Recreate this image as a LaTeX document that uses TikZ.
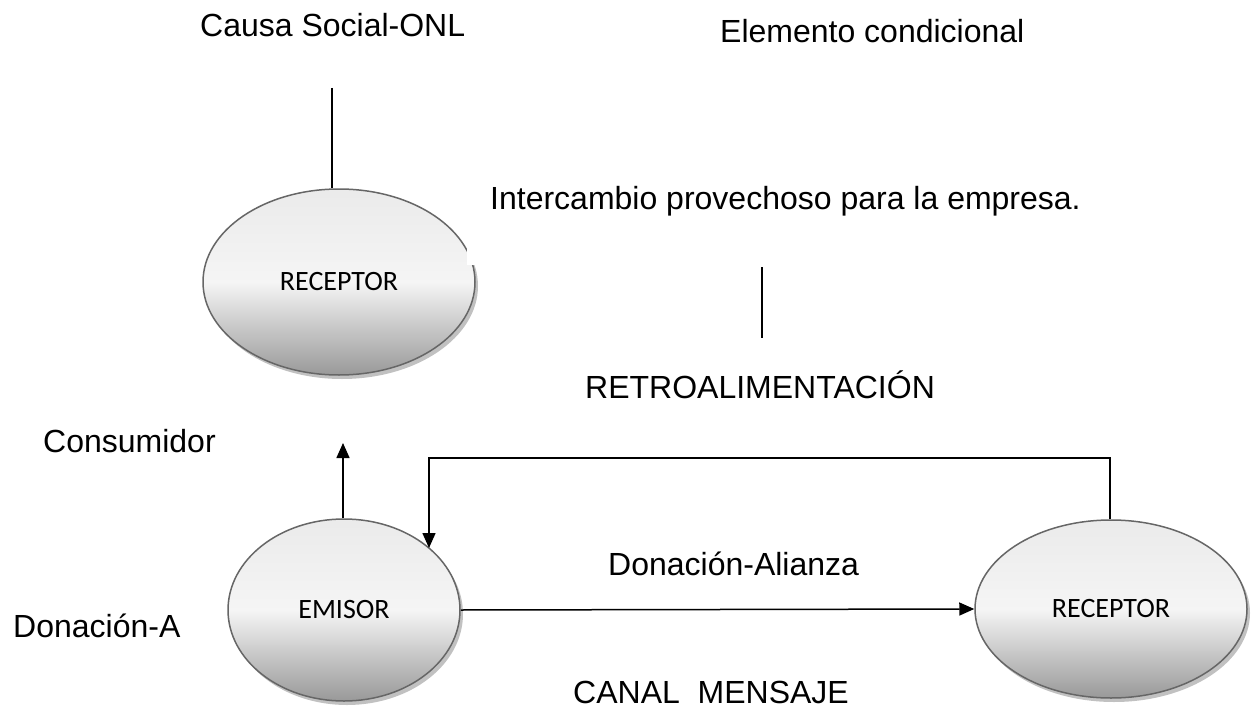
\documentclass[tikz,border=0pt]{standalone}
\usepackage{fontspec}
\setmainfont{Liberation Sans}
\newfontfamily\calib{Carlito}
\usetikzlibrary{arrows.meta,shadows,shapes.geometric}
\begin{document}
\begin{tikzpicture}[x=1pt,y=-1pt,
  lbl/.style={font=\fontsize{32}{38}\selectfont, anchor=base west, inner sep=0pt},
  bubble/.style={ellipse, draw=black!60, line width=1.5pt,
    top color=black!8, bottom color=black!40, middle color=white!96!black,
    drop shadow={shadow xshift=3pt, shadow yshift=-4pt, fill=black!30, opacity=0.8},
    font=\calib\fontsize{28}{32}\selectfont, inner sep=0pt},
  conn/.style={line width=1.5pt},
  arr/.style={conn, -{Triangle[length=15pt,width=13pt]}}]
\useasboundingbox (0,0) rectangle (1251,709);
% texts
\node[lbl] (causa) at (200,37) {Causa Social-ONL};
\node[lbl] (elem) at (720,43) {Elemento condicional};
\node[lbl] (inter) at (490,209) {Intercambio provechoso para la empresa.};
\node[lbl] (retro) at (585,398) {RETROALIMENTACIÓN};
\node[lbl] (cons) at (43,452) {Consumidor};
\node[lbl] (dona) at (13,637) {Donación-A};
\node[lbl] (canal) at (573,703) {CANAL\ \ MENSAJE};
\node[lbl] (donal) at (608,575) {Donación-Alianza};
% ellipses
\node[bubble, minimum width=272pt, minimum height=186pt] (rec1) at (339,282) {RECEPTOR};
\node[bubble, minimum width=232pt, minimum height=182pt] (emi) at (344,610) {EMISOR};
\node[bubble, minimum width=272pt, minimum height=178pt] (rec2) at (1111,609) {RECEPTOR};
\fill[white] (467,230) rectangle (478,265);
% connectors
\coordinate (c1top) at (332,88);
\draw[conn] (c1top) -- (rec1.north -| c1top);
\coordinate (l2a) at (762,267);
\coordinate (l2b) at (762,338);
\draw[conn] (l2a) -- (l2b);
\coordinate (consArr) at (343,443);
\draw[arr] (emi.north -| consArr) -- (consArr);
\coordinate (fbR) at (1110,458);
\coordinate (fbL) at (429,458);
\coordinate (fbEnd) at (429,548);
\draw[arr] (rec2.north -| fbR) -- (fbR) -- (fbL) -- (fbEnd);
\draw[arr] (emi.east) -- (rec2.west);
\end{tikzpicture}
\end{document}
